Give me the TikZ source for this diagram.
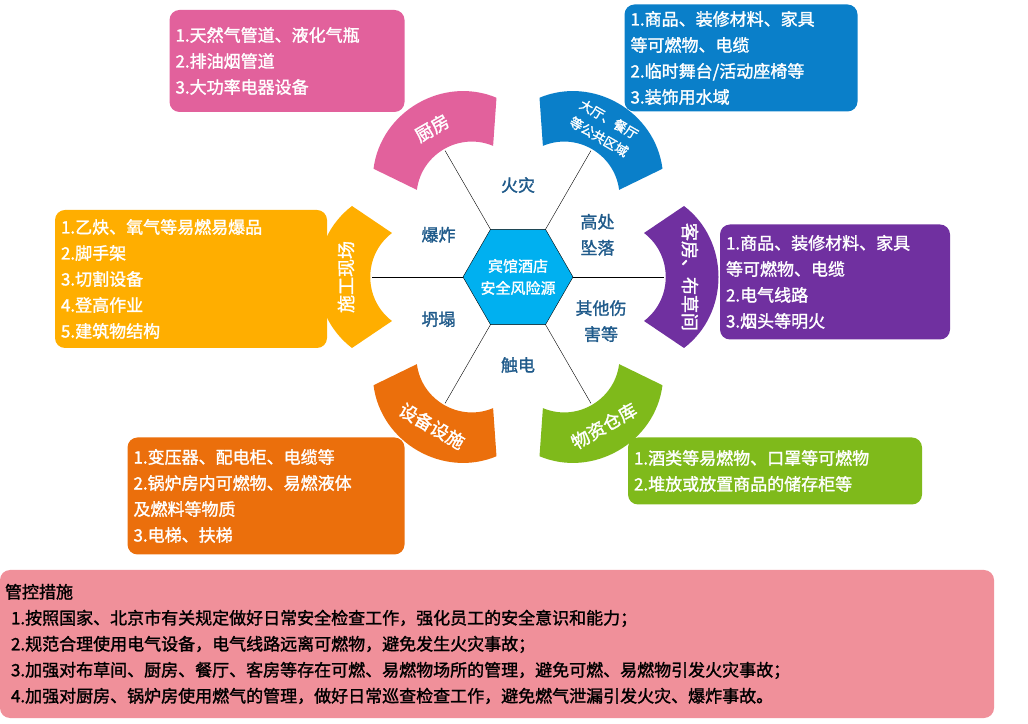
\documentclass[tikz,border=0pt]{standalone}
\usepackage{fontspec}
\setmainfont{Noto Sans CJK SC}[BoldFont={Noto Sans CJK SC}, BoldFeatures={FakeBold=1.5}]
\usepackage{tikz}
\usetikzlibrary{positioning,calc}
\definecolor{cKit}{HTML}{E2619C}
\definecolor{cHall}{HTML}{0A7FC9}
\definecolor{cRoom}{HTML}{7030A0}
\definecolor{cSite}{HTML}{FFAE00}
\definecolor{cEquip}{HTML}{EB6F0C}
\definecolor{cStore}{HTML}{7FBA1B}
\definecolor{cHub}{HTML}{00B0F0}
\definecolor{cNote}{HTML}{F0909A}
\definecolor{cRisk}{HTML}{1F5A8A}
\newcommand{\hallfont}{\fontsize{13}{16}\selectfont}
\tikzset{
  infobox/.style={rounded corners=10pt, text=white, font=\fontsize{17}{26}\selectfont\bfseries, align=left, inner sep=6pt},
  risk/.style={text=cRisk, font=\fontsize{17}{26}\selectfont\bfseries, align=center},
  seglabel/.style={text=white, font=\fontsize{18}{20}\selectfont\bfseries, align=center}
}
\begin{document}
\begin{tikzpicture}[x=1pt,y=1pt]
    \useasboundingbox (0,0) rectangle (1028,723);

    % segments round the hub
    \begin{scope}[shift={(518,446)}]
    \foreach \ang/\col/\lab/\rot in {120/cKit/厨房/30, 60/cHall/{\hallfont 大厅、餐厅\\\hallfont 等公共区域}/-30, 0/cRoom/客房、布草间/-90, 180/cSite/施工现场/90, 240/cEquip/设备设施/-30, 300/cStore/物资仓库/30} {
        \begin{scope}[rotate=\ang]
        \fill[\col] (166,71) .. controls (212,36) and (212,-36) .. (166,-71) -- (126,-44) .. controls (155,-22) and (155,22) .. (126,44) -- cycle;
        \node[seglabel, rotate=\rot] (seg\ang) at (172,0) {\lab};
        \end{scope}
    }
    % spokes and hexagon
    \foreach \i in {0,...,5} {
        \coordinate (v\i) at (\i*60:55);
        \coordinate (e\i) at (\i*60:146);
    }
    \foreach \i in {0,...,5} \draw[thin] (v\i) -- (e\i);
    \fill[cHub] (v0) -- (v1) -- (v2) -- (v3) -- (v4) -- (v5) -- cycle;
    \draw (v0) -- (v1) -- (v2) -- (v3) -- (v4) -- (v5) -- cycle;
    \node[text=white, font=\fontsize{15}{22}\selectfont\bfseries, align=center] (hub) at (0,0) {宾馆酒店\\安全风险源};

    % hazards
    \node[risk] (fire) at (90:92) {火灾};
    \node[risk] (fall) at (28:90) {高处\\坠落};
    \node[risk] (blast) at (152:90) {爆炸};
    \node[risk] (collapse) at (208:90) {坍塌};
    \node[risk] (shock) at (270:88) {触电};
    \node[risk] (other) at (332:94) {其他伤\\害等};
    \end{scope}

    % info boxes
    \node[infobox, fill=cKit, minimum width=235, minimum height=102, text width=223] (kitbox) at (287,662) {1.天然气管道、液化气瓶\\2.排油烟管道\\3.大功率电器设备};
    \node[infobox, fill=cHall, minimum width=233, minimum height=107, text width=221] (hallbox) at (741,665) {1.商品、装修材料、家具\\等可燃物、电缆\\2.临时舞台/活动座椅等\\3.装饰用水域};
    \node[infobox, fill=cRoom, minimum width=230, minimum height=115, text width=218] (roombox) at (835,441) {1.商品、装修材料、家具\\等可燃物、电缆\\2.电气线路\\3.烟头等明火};
    \node[infobox, fill=cSite, minimum width=272, minimum height=138, text width=260] (sitebox) at (191,444) {1.乙炔、氧气等易燃易爆品\\2.脚手架\\3.切割设备\\4.登高作业\\5.建筑物结构};
    \node[infobox, fill=cEquip, minimum width=277, minimum height=117, text width=265] (equipbox) at (266,227) {1.变压器、配电柜、电缆等\\2.锅炉房内可燃物、易燃液体\\及燃料等物质\\3.电梯、扶梯};
    \node[infobox, fill=cStore, minimum width=294, minimum height=67, text width=282] (storebox) at (775,252) {1.酒类等易燃物、口罩等可燃物\\2.堆放或放置商品的储存柜等};

    % measures
    \node[infobox, fill=cNote, text=black, minimum width=994, minimum height=148, text width=984, inner sep=5pt] (notebox) at (497,79) {管控措施\\
    \hspace*{6pt}1.按照国家、北京市有关规定做好日常安全检查工作，强化员工的安全意识和能力；\\
    \hspace*{6pt}2.规范合理使用电气设备，电气线路远离可燃物，避免发生火灾事故；\\
    \hspace*{6pt}3.加强对布草间、厨房、餐厅、客房等存在可燃、易燃物场所的管理，避免可燃、易燃物引发火灾事故；\\
    \hspace*{6pt}4.加强对厨房、锅炉房使用燃气的管理，做好日常巡查检查工作，避免燃气泄漏引发火灾、爆炸事故。};
\end{tikzpicture}
\end{document}
